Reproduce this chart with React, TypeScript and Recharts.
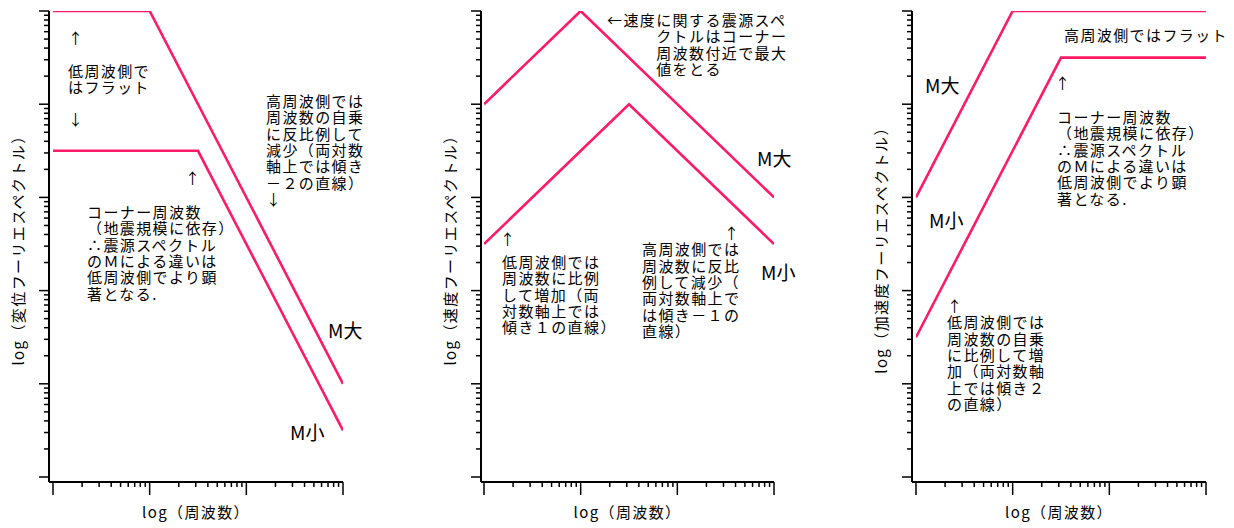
import React from "react";
import { LineChart, Line, XAxis, YAxis, Label } from "recharts";

const FONT = "'Noto Sans CJK JP', 'Noto Sans', sans-serif";
const LINE_COLOR = "#ff1a66";

// Shared log-log domains: 3 decades of frequency, 5 decades of amplitude
const freqDomain = [0.1, 100];
const ampDomain = [1, 100000];

// 変位スペクトル
const dispLargeFreq = [0.1, 1, 100];
const dispLargeAmp = [100000, 100000, 10];
const dispSmallFreq = [0.1, 3.162, 100];
const dispSmallAmp = [3162, 3162, 3.162];

// 速度スペクトル
const velLargeFreq = [0.1, 1, 100];
const velLargeAmp = [10000, 100000, 1000];
const velSmallFreq = [0.1, 3.162, 100];
const velSmallAmp = [316.2, 10000, 316.2];

// 加速度スペクトル
const accLargeFreq = [0.1, 1, 100];
const accLargeAmp = [1000, 100000, 100000];
const accSmallFreq = [0.1, 3.162, 100];
const accSmallAmp = [31.62, 31620, 31620];

const xTitle = "log（周波数）";
const yTitles = [
  "log（変位フーリエスペクトル）",
  "log（速度フーリエスペクトル）",
  "log（加速度フーリエスペクトル）",
];

// 1-2-...-9 ticks for every decade of a log axis
function decadeTicks(lo: number, hi: number): number[] {
  const out: number[] = [];
  const e0 = Math.round(Math.log10(lo));
  const e1 = Math.round(Math.log10(hi));
  for (let e = e0; e < e1; e++) {
    for (let m = 1; m < 10; m++) out.push(m * Math.pow(10, e));
  }
  out.push(hi);
  return out;
}
const freqTicks = decadeTicks(freqDomain[0], freqDomain[1]);
const ampTicks = decadeTicks(ampDomain[0], ampDomain[1]);

const isDecade = (v: number) => {
  const l = Math.log10(v);
  return Math.abs(l - Math.round(l)) < 1e-6;
};

const toRows = (f: number[], v: number[]) => f.map((x, i) => ({ f: x, v: v[i] }));

const XTick = (props: any) => {
  const { x, y, payload } = props;
  const len = isDecade(payload.value) ? 13 : 5;
  return <line x1={x} x2={x} y1={y} y2={y + len} stroke="#000" strokeWidth={1.5} />;
};

const YTick = (props: any) => {
  const { x, y, payload } = props;
  const len = isDecade(payload.value) ? 10 : 5;
  return <line x1={x - len} x2={x} y1={y} y2={y} stroke="#000" strokeWidth={1.5} />;
};

const textStyle = { fontFamily: FONT, fontSize: 15, letterSpacing: 1.4 };

type PanelProps = {
  left: number;
  axisWidth: number;
  pad: number;
  yTitle: string;
  large: { f: number; v: number }[];
  small: { f: number; v: number }[];
};

function Panel({ left, axisWidth, pad, yTitle, large, small }: PanelProps) {
  const plotWidth = pad + 290;
  return (
    <div style={{ position: "absolute", left, top: 0 }}>
      <LineChart
        width={axisWidth + plotWidth + 10}
        height={528}
        margin={{ top: 11, right: 10, bottom: 0, left: 0 }}
      >
        <XAxis
          type="number"
          dataKey="f"
          scale="log"
          domain={freqDomain}
          ticks={freqTicks}
          interval={0}
          allowDataOverflow
          height={46}
          padding={{ left: pad, right: 0 }}
          tickSize={0}
          tickMargin={0}
          tickLine={false}
          tick={XTick}
          axisLine={{ stroke: "#000", strokeWidth: 2 }}
        >
          <Label
            content={(p: any) => {
              const vb = p.viewBox || {};
              return (
                <text
                  x={vb.x + vb.width / 2}
                  y={vb.y + 36}
                  textAnchor="middle"
                  fill="#000"
                  style={textStyle}
                >
                  {xTitle}
                </text>
              );
            }}
          />
        </XAxis>
        <YAxis
          type="number"
          dataKey="v"
          scale="log"
          domain={ampDomain}
          ticks={ampTicks}
          interval={0}
          allowDataOverflow
          width={axisWidth}
          padding={{ top: 0, bottom: 5 }}
          tickSize={0}
          tickMargin={0}
          tickLine={false}
          tick={YTick}
          axisLine={{ stroke: "#000", strokeWidth: 2 }}
        >
          <Label
            content={(p: any) => {
              const vb = p.viewBox || {};
              const cx = vb.x + vb.width - 32;
              const cy = vb.y + vb.height / 2;
              return (
                <text
                  x={cx}
                  y={cy}
                  transform={`rotate(-90 ${cx} ${cy})`}
                  textAnchor="middle"
                  dominantBaseline="central"
                  fill="#000"
                  style={textStyle}
                >
                  {yTitle}
                </text>
              );
            }}
          />
        </YAxis>
        <Line
          data={large}
          dataKey="v"
          type="linear"
          dot={false}
          stroke={LINE_COLOR}
          strokeWidth={2.6}
          isAnimationActive={false}
        />
        <Line
          data={small}
          dataKey="v"
          type="linear"
          dot={false}
          stroke={LINE_COLOR}
          strokeWidth={2.6}
          isAnimationActive={false}
        />
      </LineChart>
    </div>
  );
}

type NoteProps = { x: number; y: number; lines: string[]; size?: number };

// Multi-line annotation; y is the centre of the first line
function Note({ x, y, lines, size = 15 }: NoteProps) {
  const lh = 16.4;
  return (
    <div
      style={{
        position: "absolute",
        left: x,
        top: y - lh / 2,
        fontFamily: FONT,
        fontSize: size,
        letterSpacing: size === 15 ? 1.4 : 0,
        lineHeight: `${lh}px`,
        whiteSpace: "pre",
        color: "#000",
      }}
    >
      {lines.join("\n")}
    </div>
  );
}

const ML = "M大";
const MS = "M小";

export default function App() {
  return (
    <div
      style={{
        position: "absolute",
        left: 0,
        top: 0,
        width: 1234,
        height: 528,
        background: "#fff",
        overflow: "hidden",
      }}
    >
      <Panel
        left={0}
        axisWidth={49}
        pad={4}
        yTitle={yTitles[0]}
        large={toRows(dispLargeFreq, dispLargeAmp)}
        small={toRows(dispSmallFreq, dispSmallAmp)}
      />
      <Panel
        left={420}
        axisWidth={61}
        pad={3}
        yTitle={yTitles[1]}
        large={toRows(velLargeFreq, velLargeAmp)}
        small={toRows(velSmallFreq, velSmallAmp)}
      />
      <Panel
        left={860}
        axisWidth={52}
        pad={4}
        yTitle={yTitles[2]}
        large={toRows(accLargeFreq, accLargeAmp)}
        small={toRows(accSmallFreq, accSmallAmp)}
      />

      {/* 変位 */}
      <Note x={68} y={38} lines={["↑"]} />
      <Note x={68} y={71} lines={["低周波側で", "はフラット"]} />
      <Note x={68} y={119} lines={["↓"]} />
      <Note
        x={266}
        y={101}
        lines={["高周波側では", "周波数の自乗", "に反比例して", "減少（両対数", "軸上では傾き", "－２の直線）", "↓"]}
      />
      <Note x={185} y={178} lines={["↑"]} />
      <Note
        x={87}
        y={212}
        lines={["コーナー周波数", "（地震規模に依存）", "∴震源スペクトル", "のＭによる違いは", "低周波側でより顕", "著となる."]}
      />
      <Note x={328} y={330} lines={[ML]} size={19} />
      <Note x={290} y={432} lines={[MS]} size={19} />

      {/* 速度 */}
      <Note
        x={607}
        y={20}
        lines={["←速度に関する震源スペ", "　　　クトルはコーナー", "　　　周波数付近で最大", "　　　値をとる"]}
      />
      <Note x={500} y={239} lines={["↑"]} />
      <Note x={502} y={262} lines={["低周波側では", "周波数に比例", "して増加（両", "対数軸上では", "傾き１の直線）"]} />
      <Note
        x={642}
        y={233}
        lines={["　　　　　↑", "高周波側では", "周波数に反比", "例して減少（", "両対数軸上で", "は傾き－１の", "直線）"]}
      />
      <Note x={757} y={158} lines={[ML]} size={19} />
      <Note x={761} y={272} lines={[MS]} size={19} />

      {/* 加速度 */}
      <Note x={1064} y={35} lines={["高周波側ではフラット"]} />
      <Note x={925} y={85} lines={[ML]} size={19} />
      <Note x={929} y={220} lines={[MS]} size={19} />
      <Note x={1055} y={83} lines={["↑"]} />
      <Note
        x={1057}
        y={117}
        lines={["コーナー周波数", "（地震規模に依存）", "∴震源スペクトル", "のＭによる違いは", "低周波側でより顕", "著となる."]}
      />
      <Note
        x={947}
        y={306}
        lines={["↑", "低周波側では", "周波数の自乗", "に比例して増", "加（両対数軸", "上では傾き２", "の直線）"]}
      />
    </div>
  );
}
